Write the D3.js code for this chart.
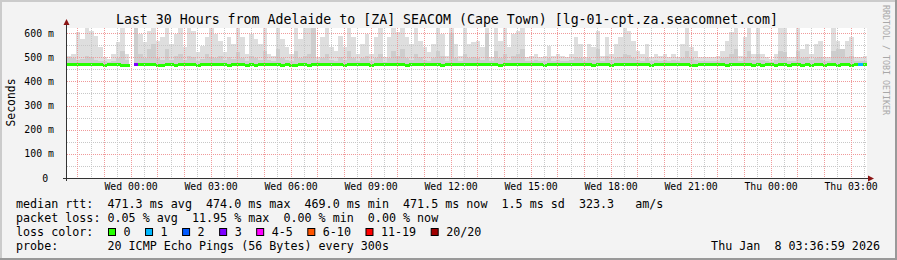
<!DOCTYPE html>
<html>
<head>
<meta charset="utf-8">
<script src="https://cdn.jsdelivr.net/npm/d3@7"></script>
<style>
  body { margin: 0; background: #f3f3f3; }
  svg { display: block; }
  text { font-family: "DejaVu Sans Mono", monospace; white-space: pre; fill: #000; }
</style>
</head>
<body>
<div id="chart"></div>
<script>
// 10 minute samples, Tue 21:37 -> Thu 03:37, values in ms
const smokeMax = [
  506, 513, 603, 575, 625, 610, 589, 541, 499, 492, 513, 561, 625, 513, null,
  625, 596, 561, 610, 625, 568, 582, 625, 554, 596, 625, 541, 625, 610, 520,
  547, 582, 625, 596, 568, 520, 582, 554, 625, 582, 513, 596, 575, 554, 625,
  513, 506, 625, 575, 541, 513, 625, 575, 625, 625, 625, 499, 582, 625, 541,
  527, 589, 541, 625, 582, 513, 555, 596, 513, 582, 625, 499, 582, 625, 603,
  625, 582, 555, 625, 568, 541, 520, 555, 625, 596, 506, 625, 555, 506, 625,
  555, 561, 568, 541, 625, 499, 625, 568, 625, 541, 596, 609, 625, 499, 506,
  513, 499, 506, 548, 506, 513, 506, 499, 513, 582, 555, 499, 555, 541, 609,
  506, 582, 513, 555, 582, 625, 609, 568, 527, 513, 555, 499, 513, 506, 513,
  499, 513, 499, 555, 625, 541, 527, 499, 499, 499, 499, 506, 527, 568, 603,
  625, 506, 582, 625, 513, 625, 513, 499, 492, 513, 625, 625, 499, 499, 625,
  534, 555, 513, 555, 568, 499, 499, 625, 568, 513, 568, 582, 499, 499, 506
];
const smokeMid = [
  500, 495, 490, 492, 505, 500, 490, 486, 484, 482, 486, 495, 525, 490, null,
  625, 515, 495, 535, 555, 495, 490, 535, 490, 505, 515, 490, 505, 500, 486,
  492, 515, 500, 495, 505, 490, 500, 492, 520, 495, 485, 505, 495, 490, 525,
  490, 485, 535, 495, 490, 484, 525, 495, 505, 515, 625, 485, 495, 515, 490,
  486, 500, 490, 525, 495, 484, 495, 505, 485, 495, 515, 482, 495, 525, 505,
  535, 495, 490, 515, 500, 490, 486, 495, 525, 505, 485, 600, 495, 485, 515,
  495, 500, 495, 490, 600, 484, 525, 495, 515, 490, 505, 515, 535, 484, 486,
  490, 484, 485, 495, 486, 490, 486, 484, 490, 500, 495, 484, 495, 490, 535,
  486, 505, 490, 495, 500, 515, 510, 495, 490, 486, 495, 484, 490, 486, 490,
  484, 490, 484, 495, 525, 495, 490, 484, 484, 484, 484, 486, 495, 500, 515,
  535, 486, 500, 525, 490, 515, 490, 484, 482, 490, 525, 520, 484, 484, 525,
  495, 500, 490, 495, 500, 484, 484, 525, 535, 535, 500, 505, 484, 484, 486
];
const median = [
  471.5, 471.5, 471.5, 471.5, 471.5, 471.5, 471.5, 471.5, 469.5, 471.5, 471.5, 471.5, 469.5, 469.5, null,
  471.5, 471.5, 471.5, 471.5, 471.5, 469.5, 469.5, 471.5, 471.5, 469.5, 471.5, 471.5, 471.5, 471.5, 469.5,
  471.5, 471.5, 471.5, 471.5, 471.5, 471.5, 469.5, 471.5, 471.5, 471.5, 469.5, 471.5, 469.5, 471.5, 471.5,
  471.5, 471.5, 471.5, 469.5, 471.5, 469.5, 469.5, 471.5, 471.5, 469.5, 471.5, 471.5, 471.5, 471.5, 471.5,
  471.5, 471.5, 469.5, 471.5, 471.5, 471.5, 471.5, 471.5, 469.5, 471.5, 471.5, 471.5, 471.5, 471.5, 471.5,
  471.5, 469.5, 471.5, 471.5, 471.5, 471.5, 471.5, 471.5, 471.5, 469.5, 471.5, 471.5, 471.5, 471.5, 471.5,
  471.5, 471.5, 471.5, 471.5, 471.5, 471.5, 471.5, 469.5, 471.5, 471.5, 471.5, 471.5, 471.5, 471.5, 471.5,
  471.5, 471.5, 469.5, 471.5, 471.5, 471.5, 471.5, 471.5, 471.5, 471.5, 471.5, 471.5, 471.5, 469.5, 471.5,
  471.5, 471.5, 469.5, 471.5, 471.5, 471.5, 471.5, 471.5, 471.5, 471.5, 471.5, 469.5, 471.5, 471.5, 471.5,
  471.5, 471.5, 471.5, 471.5, 471.5, 469.5, 469.5, 471.5, 471.5, 471.5, 471.5, 471.5, 471.5, 469.5, 471.5,
  471.5, 471.5, 471.5, 471.5, 469.5, 471.5, 469.5, 471.5, 471.5, 469.5, 471.5, 471.5, 469.5, 471.5, 471.5,
  469.5, 471.5, 469.5, 471.5, 471.5, 469.5, 471.5, 471.5, 469.5, 471.5, 471.5, 469.5, 471.5, 472.0, 471.5
];
// pings lost out of 20 per sample (null = no data)
const loss = [
  0, 0, 0, 0, 0, 0, 0, 0, 0, 0, 0, 0, 0, 0, null,
  3, 0, 0, 0, 0, 0, 0, 0, 0, 0, 0, 0, 0, 0, 0,
  0, 0, 0, 0, 0, 0, 0, 0, 0, 0, 0, 0, 0, 0, 0,
  0, 0, 0, 0, 0, 0, 0, 0, 0, 0, 0, 0, 0, 0, 0,
  0, 0, 0, 0, 0, 0, 0, 0, 0, 0, 0, 0, 0, 0, 0,
  0, 0, 0, 0, 0, 0, 0, 0, 0, 0, 0, 0, 0, 0, 0,
  0, 0, 0, 0, 0, 0, 0, 0, 0, 0, 0, 0, 0, 0, 0,
  0, 0, 0, 0, 0, 0, 0, 0, 0, 0, 0, 0, 0, 0, 0,
  0, 0, 0, 0, 0, 0, 0, 0, 0, 0, 0, 0, 0, 0, 0,
  0, 0, 0, 0, 0, 0, 0, 0, 0, 0, 0, 0, 0, 0, 0,
  0, 0, 0, 0, 0, 0, 0, 0, 0, 0, 0, 0, 0, 0, 0,
  0, 0, 0, 0, 0, 0, 0, 0, 0, 0, 0, 0, 0, 1, 0
];

const yTicks = [0, 100, 200, 300, 400, 500, 600];
const lossLabels = ["0", "1", "2", "3", "4-5", "6-10", "11-19", "20/20"];
const lossColors = ["#26ff00", "#00b8ff", "#0059ff", "#7e00ff", "#ff00ff", "#ff5500", "#ff0000", "#a00000"];
const lossUpper = [0, 1, 2, 3, 5, 10, 19, 20];

const titleText = "Last 30 Hours from Adelaide to [ZA] SEACOM (Cape Town) [lg-01-cpt.za.seacomnet.com]";
const rttLine = "median rtt:  471.3 ms avg  474.0 ms max  469.0 ms min  471.5 ms now  1.5 ms sd  323.3   am/s";
const lossLine = "packet loss: 0.05 % avg  11.95 % max  0.00 % min  0.00 % now";
const probeLine = "probe:       20 ICMP Echo Pings (56 Bytes) every 300s";
const stampText = "Thu Jan  8 03:36:59 2026";

const width = 897, height = 260;
const margin = { left: 67, right: 867, top: 28, bottom: 178 };
const t0 = new Date(Date.UTC(2026, 0, 6, 21, 36, 59));
const t1 = new Date(Date.UTC(2026, 0, 8, 3, 36, 59));
const stepMs = 10 * 60 * 1000;

const svg = d3.select("#chart").append("svg")
  .attr("width", width).attr("height", height);

// frame
svg.append("rect").attr("width", width).attr("height", height).attr("fill", "#f3f3f3");
svg.append("path").attr("d", `M1,${height} V1 H${width}`).attr("stroke", "#cbcbcb").attr("stroke-width", 2).attr("fill", "none");
svg.append("path").attr("d", `M0,${height - 1} H${width - 1} V0`).attr("stroke", "#999").attr("stroke-width", 2).attr("fill", "none");

const x = d3.scaleUtc().domain([t0, t1]).range([margin.left, margin.right]);
const y = d3.scaleLinear().domain([0, 620.7]).range([margin.bottom, margin.top]);

svg.append("defs").append("clipPath").attr("id", "plotClip")
  .append("rect").attr("x", margin.left).attr("y", margin.top)
  .attr("width", margin.right - margin.left).attr("height", margin.bottom - margin.top);

svg.append("rect")
  .attr("x", margin.left).attr("y", margin.top)
  .attr("width", margin.right - margin.left).attr("height", margin.bottom - margin.top)
  .attr("fill", "#fff");

const samples = smokeMax.map((v, i) => ({
  t: new Date(+t0 + i * stepMs),
  t2: new Date(+t0 + (i + 1) * stepMs),
  max: v, mid: smokeMid[i], med: median[i], loss: loss[i]
})).filter(d => d.med != null);

const plot = svg.append("g").attr("clip-path", "url(#plotClip)");

// smoke: outer and inner layers
plot.selectAll(".smoke").data(samples).join("rect")
  .attr("class", "smoke")
  .attr("x", d => x(d.t)).attr("width", d => x(d.t2) - x(d.t))
  .attr("y", d => y(d.max)).attr("height", d => y(d.med) - y(d.max))
  .attr("fill", "#dedede").attr("shape-rendering", "crispEdges");
plot.selectAll(".smoke2").data(samples).join("rect")
  .attr("class", "smoke2")
  .attr("x", d => x(d.t)).attr("width", d => x(d.t2) - x(d.t))
  .attr("y", d => y(d.mid)).attr("height", d => y(d.med) - y(d.mid))
  .attr("fill", "#cdcdcd").attr("shape-rendering", "crispEdges");

// grid
const grid = svg.append("g").attr("shape-rendering", "crispEdges");
const hours = d3.utcHour.every(1).range(t0, t1);
const halfHours = d3.utcMinute.every(30).range(t0, t1).filter(d => d.getUTCMinutes() === 30);
grid.selectAll(".vmin").data(halfHours).join("line")
  .attr("x1", d => Math.round(x(d)) + 0.5).attr("x2", d => Math.round(x(d)) + 0.5)
  .attr("y1", margin.top).attr("y2", margin.bottom)
  .attr("stroke", "#c8c8c8").attr("stroke-dasharray", "1,1");
const minorY = d3.range(50, 620, 100);
grid.selectAll(".hmin").data(minorY).join("line")
  .attr("y1", d => Math.round(y(d)) + 0.5).attr("y2", d => Math.round(y(d)) + 0.5)
  .attr("x1", margin.left).attr("x2", margin.right)
  .attr("stroke", "#c8c8c8").attr("stroke-dasharray", "1,1");
grid.selectAll(".vmaj").data(hours).join("line")
  .attr("x1", d => Math.round(x(d)) + 0.5).attr("x2", d => Math.round(x(d)) + 0.5)
  .attr("y1", margin.top).attr("y2", margin.bottom)
  .attr("stroke", "#f09a9a").attr("stroke-dasharray", "1,1");
grid.selectAll(".hmaj").data(yTicks.filter(d => d > 0)).join("line")
  .attr("y1", d => Math.round(y(d)) + 0.5).attr("y2", d => Math.round(y(d)) + 0.5)
  .attr("x1", margin.left).attr("x2", margin.right)
  .attr("stroke", "#f09a9a").attr("stroke-dasharray", "1,1");

// median line coloured by loss
const lossColor = n => lossColors[lossUpper.findIndex(u => n <= u)];
plot.selectAll(".med").data(samples).join("rect")
  .attr("class", "med")
  .attr("x", d => x(d.t)).attr("width", d => x(d.t2) - x(d.t) + 0.3)
  .attr("y", d => Math.round(y(d.med)) - 1).attr("height", 3)
  .attr("fill", d => lossColor(d.loss)).attr("shape-rendering", "crispEdges");

// axes
const xAxis = d3.axisBottom(x)
  .ticks(d3.utcHour.every(3))
  .tickFormat(d3.utcFormat("%a %H:%M"))
  .tickSize(0).tickPadding(5.5);
const gx = svg.append("g").attr("transform", `translate(0,${margin.bottom})`).call(xAxis);
gx.select(".domain").remove();
gx.selectAll("text").attr("font-family", "DejaVu Sans Mono").attr("font-size", 9.85).attr("fill", "#000");

const yAxis = d3.axisLeft(y)
  .tickValues(yTicks)
  .tickFormat(d => d === 0 ? "0 " : d + " m")
  .tickSize(0).tickPadding(13);
const gy = svg.append("g").attr("transform", `translate(${margin.left},0)`).call(yAxis);
gy.select(".domain").remove();
gy.selectAll("text").attr("font-family", "DejaVu Sans Mono").attr("font-size", 9.85).attr("fill", "#000");

// axis lines with arrows
svg.append("line").attr("x1", 63).attr("x2", 869).attr("y1", margin.bottom + 0.5).attr("y2", margin.bottom + 0.5)
  .attr("stroke", "#333").attr("shape-rendering", "crispEdges");
svg.append("line").attr("x1", margin.left - 0.5).attr("x2", margin.left - 0.5).attr("y1", 181).attr("y2", 23)
  .attr("stroke", "#333").attr("shape-rendering", "crispEdges");
svg.append("path").attr("d", `M868,${margin.bottom - 2.5} L874,${margin.bottom + 0.5} L868,${margin.bottom + 3.5} Z`).attr("fill", "#8b1515");
svg.append("path").attr("d", `M${margin.left - 3.5},25 L${margin.left - 0.5},19 L${margin.left + 2.5},25 Z`).attr("fill", "#8b1515");

// titles
svg.append("text").attr("x", 447).attr("y", 24).attr("text-anchor", "middle")
  .attr("font-size", 13.25).text(titleText);
svg.append("text").attr("transform", "translate(15,102.5) rotate(-90)").attr("text-anchor", "middle")
  .attr("font-size", 11.4).text("Seconds");
svg.append("text").attr("transform", "translate(883,5) rotate(90)")
  .attr("font-size", 8.3).style("fill", "#a8a8a8").text("RRDTOOL / TOBI OETIKER");

// legend
const legendFont = 11.7, charW = legendFont * 0.602;
svg.append("text").attr("x", 16).attr("y", 207.5).attr("font-size", legendFont).text(rttLine);
svg.append("text").attr("x", 16).attr("y", 221.5).attr("font-size", legendFont).text(lossLine);
svg.append("text").attr("x", 16).attr("y", 235.5).attr("font-size", legendFont).text("loss color:");
svg.append("text").attr("x", 16).attr("y", 249.5).attr("font-size", legendFont).text(probeLine);
svg.append("text").attr("x", 880).attr("y", 249.5).attr("text-anchor", "end").attr("font-size", legendFont).text(stampText);

let lx = 108.5;
lossLabels.forEach((lab, i) => {
  svg.append("rect").attr("x", lx).attr("y", 228.5).attr("width", 7).attr("height", 7)
    .attr("fill", lossColors[i]).attr("stroke", "#000").attr("stroke-width", 1);
  svg.append("text").attr("x", lx + 15).attr("y", 235.5).attr("font-size", legendFont).text(lab);
  lx += 15 + lab.length * charW + 15;
});
</script>
</body>
</html>
